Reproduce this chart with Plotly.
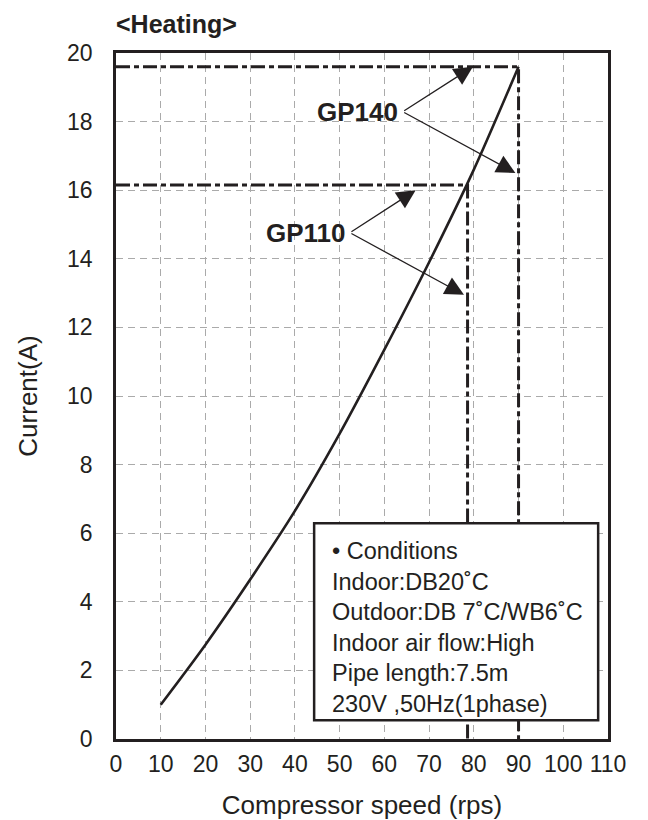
import plotly.graph_objects as go

# heating curve: compressor speed (rps) vs current (A)
speed = [10, 20, 30, 40, 50, 60, 70, 80, 90]
current = [1.0, 2.75, 4.65, 6.65, 8.9, 11.35, 13.9, 16.6, 19.6]

# max operating points per model
models = ["GP140", "GP110"]
max_speed = [90, 78.6]
max_current = [19.6, 16.15]

# label positions and arrow tips (data coords)
label_x = [63.4, 51.8]
label_y = [18.29, 14.76]
tail_x = [64.1, 52.3]
tip1_x = [79.8, 67.0]
tip1_y = [19.6, 16.0]
tip2_x = [89.3, 77.8]
tip2_y = [16.5, 12.95]

x_ticks = list(range(0, 111, 10))
y_ticks = list(range(0, 21, 2))

conditions = [
    "• Conditions",
    "Indoor:DB20˚C",
    "Outdoor:DB 7˚C/WB6˚C",
    "Indoor air flow:High",
    "Pipe length:7.5m",
    "230V ,50Hz(1phase)",
]

FONT = "Liberation Sans, Arial, sans-serif"
INK = "#231f20"

fig = go.Figure()

for sx, cy in zip(max_speed, max_current):
    fig.add_trace(go.Scatter(
        x=[0, sx, sx], y=[cy, cy, 0],
        mode="lines",
        line=dict(color=INK, width=3, dash="14px,4px,5px,4px"),
        hoverinfo="skip",
    ))

fig.add_trace(go.Scatter(
    x=speed, y=current,
    mode="lines",
    line=dict(color=INK, width=2.6, shape="spline", smoothing=0.8),
    hovertemplate="%{x} rps: %{y} A<extra></extra>",
))

annotations = []
for name, lx, ly, tx, ax1, ay1, ax2, ay2 in zip(models, label_x, label_y, tail_x,
                                                tip1_x, tip1_y, tip2_x, tip2_y):
    annotations.append(dict(
        x=lx, y=ly, xref="x", yref="y", text=f"<b>{name}</b>",
        showarrow=False, xanchor="right", yanchor="middle",
        font=dict(size=26, family=FONT, color=INK),
    ))
    for hx, hy in [(ax1, ay1), (ax2, ay2)]:
        annotations.append(dict(
            x=hx, y=hy, ax=tx, ay=ly, xref="x", yref="y", axref="x", ayref="y",
            text="", showarrow=True, arrowhead=2, arrowsize=2.9, arrowwidth=1.3,
            arrowcolor=INK, standoff=0,
        ))

annotations.append(dict(
    x=47.9, y=3.26, xref="x", yref="y", text="<br>".join(conditions),
    showarrow=False, xanchor="left", yanchor="middle", align="left",
    font=dict(size=23.5, family=FONT, color=INK),
))
annotations.append(dict(
    x=0, y=1, xref="paper", yref="paper", text="<b><Heating></b>",
    showarrow=False, xanchor="left", yanchor="bottom", yshift=13, xshift=-2,
    font=dict(size=25, family=FONT, color=INK),
))

# page body keeps an 8px margin, so the figure is 16px smaller than the window
fig.update_layout(
    width=640, height=812,
    margin=dict(l=108, r=40, t=45, b=81),
    paper_bgcolor="white",
    plot_bgcolor="white",
    showlegend=False,
    font=dict(family=FONT, color=INK),
    annotations=annotations,
    shapes=[dict(
        type="rect", xref="x", yref="y", x0=44.3, x1=107.8, y0=0.55, y1=6.29,
        fillcolor="white", line=dict(color=INK, width=2.5), layer="above",
    )],
    xaxis=dict(
        range=[0, 110], tickvals=x_ticks, showgrid=True, gridcolor="#aaaaaa",
        gridwidth=1.2, griddash="7px,5px", zeroline=False, automargin=False,
        showline=True, linecolor=INK, linewidth=2.5, mirror=True,
        ticks="outside", ticklen=3, tickcolor="rgba(0,0,0,0)",
        tickfont=dict(size=23, family=FONT, color=INK),
        title=dict(text="Compressor speed (rps)", font=dict(size=26, family=FONT, color=INK), standoff=20),
    ),
    yaxis=dict(
        range=[0, 20], tickvals=y_ticks, showgrid=True, gridcolor="#aaaaaa",
        gridwidth=1.2, griddash="7px,5px", zeroline=False, automargin=False,
        showline=True, linecolor=INK, linewidth=2.5, mirror=True,
        ticks="outside", ticklen=16, tickcolor="rgba(0,0,0,0)",
        tickfont=dict(size=23, family=FONT, color=INK),
        title=dict(text="Current(A)", font=dict(size=26, family=FONT, color=INK), standoff=22),
    ),
)

fig.write_html("out.html")
